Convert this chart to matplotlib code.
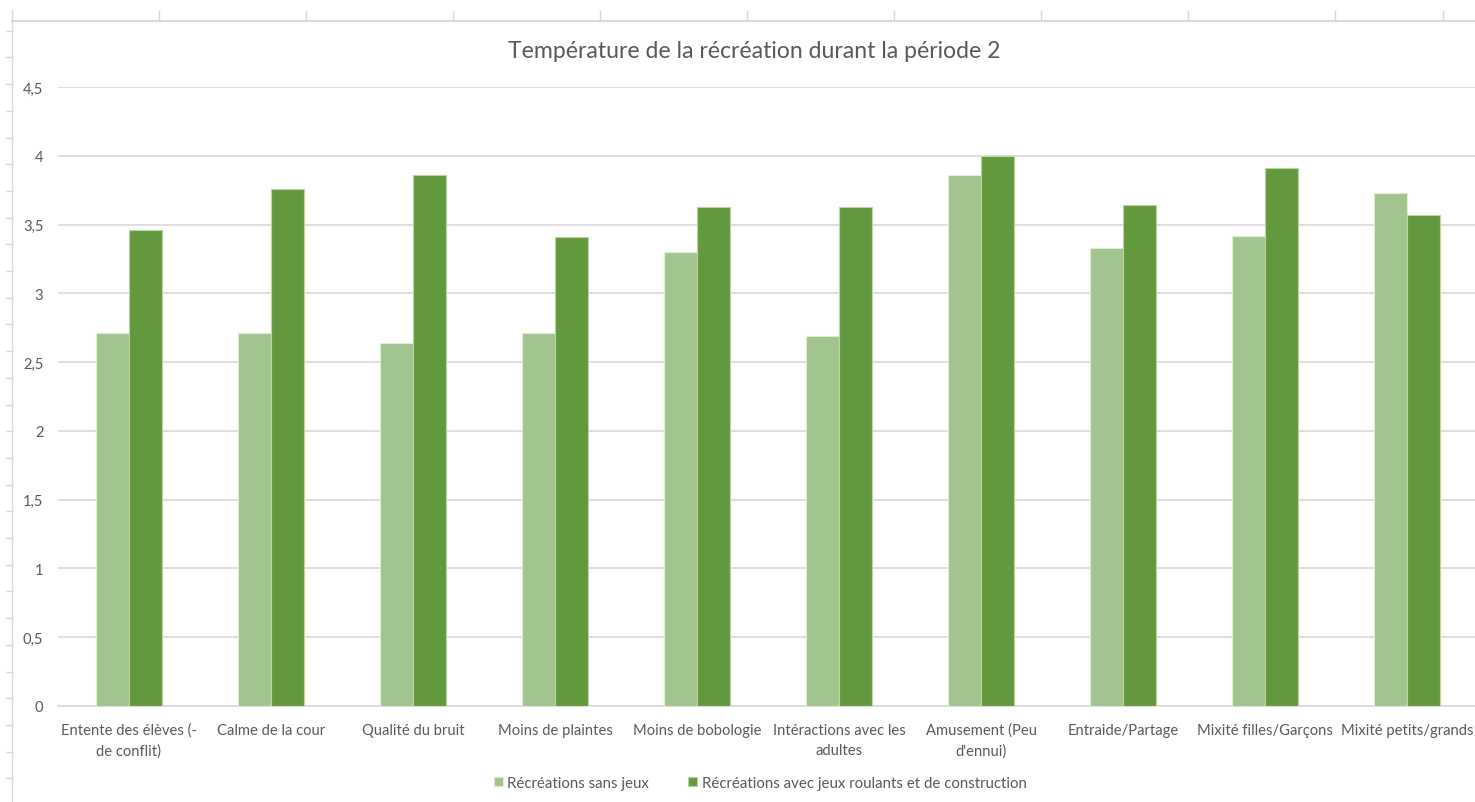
import numpy as np
import matplotlib
matplotlib.use("Agg")
import matplotlib.pyplot as plt
from matplotlib.lines import Line2D

plt.rcParams['font.family'] = ['Lato', 'DejaVu Sans']

categories = ["Entente des élèves (-\nde conflit)", "Calme de la cour", "Qualité du bruit",
              "Moins de plaintes", "Moins de bobologie", "Intéractions avec les\nadultes",
              "Amusement (Peu\nd'ennui)", "Entraide/Partage", "Mixité filles/Garçons",
              "Mixité petits/grands"]
sans_jeux = [2.71, 2.71, 2.64, 2.71, 3.30, 2.69, 3.86, 3.33, 3.42, 3.73]
avec_jeux = [3.46, 3.76, 3.86, 3.41, 3.63, 3.63, 4.00, 3.64, 3.91, 3.57]
yticks = [0, 0.5, 1, 1.5, 2, 2.5, 3, 3.5, 4, 4.5]
ytick_labels = ["0", "0,5", "1", "1,5", "2", "2,5", "3", "3,5", "4", "4,5"]

W, H = 1475, 803
fig = plt.figure(figsize=(W / 100, H / 100), dpi=100)

def fx(x):
    return x / W

def fy(y):
    return 1 - y / H

# spreadsheet grid visible around the chart
grey = "#d9d9d9"
fig.add_artist(Line2D([fx(12), fx(12)], [fy(11), fy(803)], color=grey, lw=1))
fig.add_artist(Line2D([fx(12), fx(1475)], [fy(22), fy(22)], color=grey, lw=1.5))
for cx in [159, 306, 453, 600, 747, 894, 1041, 1188, 1335, 1443]:
    fig.add_artist(Line2D([fx(cx), fx(cx)], [fy(12), fy(22)], color=grey, lw=1))
for ry in np.arange(31.7, 803, 26.7):
    fig.add_artist(Line2D([fx(6), fx(12)], [fy(ry), fy(ry)], color=grey, lw=1))

ax = fig.add_axes([fx(58), fy(707), fx(1420), (707 - 88) / H])

x = np.arange(len(categories))
w = 0.233
ax.bar(x - w / 2, sans_jeux, w, color="#a2c48f", edgecolor="#dfeed5", linewidth=0.8,
       label="Récréations sans jeux", zorder=3)
ax.bar(x + w / 2, avec_jeux, w, color="#63993d", edgecolor="#b9d6a4", linewidth=0.8,
       label="Récréations avec jeux roulants et de construction", zorder=3)

ax.set_xlim(-0.5, len(categories) - 0.5)
ax.set_ylim(0, 4.5)
ax.set_yticks(yticks)
ax.set_yticklabels(ytick_labels)
ax.set_xticks(x)
ax.set_xticklabels(categories, linespacing=1.55)
ax.yaxis.grid(True, color=grey, lw=1.2, zorder=0)
for s in ax.spines.values():
    s.set_visible(False)
ax.spines['bottom'].set_visible(True)
ax.spines['bottom'].set_color(grey)
ax.spines['bottom'].set_linewidth(1.2)
ax.tick_params(axis='both', length=0, colors="#595959", labelsize=10.6)
ax.tick_params(axis='y', pad=10.5)
ax.tick_params(axis='x', pad=12)
ax.set_axisbelow(True)

fig.text(fx(754), fy(52), "Température de la récréation durant la période 2",
         ha="center", va="center", fontsize=16.6, color="#595959")

fig.legend(loc="center", bbox_to_anchor=(fx(760), fy(784)), ncol=2, frameon=False,
           fontsize=10.8, labelcolor="#595959", handlelength=0.6, handleheight=0.6,
           handletextpad=0.3, columnspacing=2.6)

fig.savefig("out.png", dpi=100)
